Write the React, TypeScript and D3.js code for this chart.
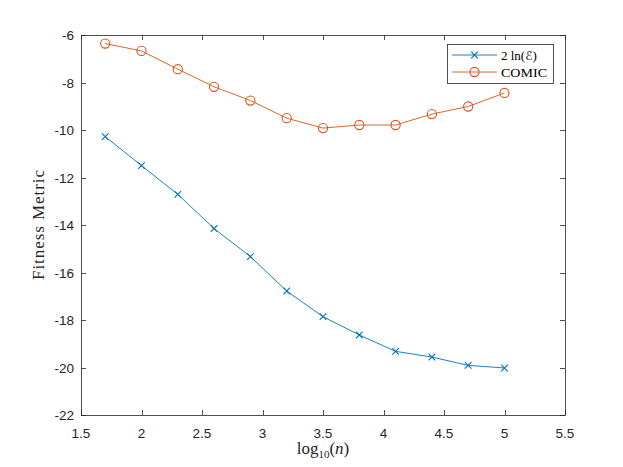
import React, { useRef, useEffect } from "react";
import * as d3 from "d3";

const logN = [1.7, 2.0, 2.3, 2.6, 2.9, 3.2, 3.5, 3.8, 4.1, 4.4, 4.7, 5.0];
const twoLnE = [-10.28, -11.5, -12.71, -14.15, -15.33, -16.78, -17.86, -18.63, -19.32, -19.56, -19.91, -20.02];
const comic = [-6.36, -6.67, -7.44, -8.18, -8.76, -9.5, -9.92, -9.79, -9.79, -9.33, -9.01, -8.44];
const xTicks = [1.5, 2, 2.5, 3, 3.5, 4, 4.5, 5, 5.5];
const yTicks = [-22, -20, -18, -16, -14, -12, -10, -8, -6];

const BLUE = "#0072BD";
const ORANGE = "#D95319";
const AXIS = "#262626";

export default function App() {
  const svgRef = useRef<SVGSVGElement>(null);

  useEffect(() => {
    if (!svgRef.current) return;
    const width = 623;
    const height = 467;
    const left = 81, right = 565, top = 35, bottom = 415;

    const svg = d3.select(svgRef.current).attr("width", width).attr("height", height);
    svg.selectAll("*").remove();

    const x = d3.scaleLinear().domain([1.5, 5.5]).range([left, right]);
    const y = d3.scaleLinear().domain([-22, -6]).range([bottom, top]);

    svg.append("rect").attr("width", width).attr("height", height).attr("fill", "#fff");

    // ticks (inside, on all four sides)
    const tk = svg.append("g").attr("stroke", AXIS).attr("stroke-width", 0.8);
    xTicks.forEach((t) => {
      const px = Math.round(x(t)) + 0.5;
      tk.append("line").attr("x1", px).attr("x2", px).attr("y1", bottom).attr("y2", bottom - 5);
      tk.append("line").attr("x1", px).attr("x2", px).attr("y1", top).attr("y2", top + 5);
    });
    yTicks.forEach((t) => {
      const py = Math.round(y(t)) + 0.5;
      tk.append("line").attr("x1", left).attr("x2", left + 5).attr("y1", py).attr("y2", py);
      tk.append("line").attr("x1", right).attr("x2", right - 5).attr("y1", py).attr("y2", py);
    });

    svg
      .append("rect")
      .attr("x", left + 0.5)
      .attr("y", top + 0.5)
      .attr("width", right - left)
      .attr("height", bottom - top)
      .attr("fill", "none")
      .attr("stroke", AXIS)
      .attr("stroke-width", 0.8);

    // tick labels
    const lab = svg
      .append("g")
      .attr("font-family", "'Liberation Sans', Arial, sans-serif")
      .attr("font-size", 13.5)
      .attr("fill", AXIS);
    xTicks.forEach((t) => {
      lab.append("text").attr("x", x(t)).attr("y", bottom + 23).attr("text-anchor", "middle").text(String(t));
    });
    yTicks.forEach((t) => {
      lab.append("text").attr("x", left - 7).attr("y", y(t) + 5).attr("text-anchor", "end").text(String(t));
    });

    // axis labels
    const xl = svg
      .append("text")
      .attr("x", (left + right) / 2)
      .attr("y", 454)
      .attr("text-anchor", "middle")
      .attr("font-family", "'Liberation Serif', serif")
      .attr("font-size", 17)
      .attr("fill", AXIS);
    xl.append("tspan").text("log");
    xl.append("tspan").attr("font-size", 11).attr("dy", 4).text("10");
    xl.append("tspan").attr("dy", -4).text("(");
    xl.append("tspan").attr("font-style", "italic").text("n");
    xl.append("tspan").text(")");

    svg
      .append("text")
      .attr("transform", `translate(44,${(top + bottom) / 2}) rotate(-90)`)
      .attr("text-anchor", "middle")
      .attr("font-family", "'Liberation Serif', serif")
      .attr("font-size", 17)
      .attr("textLength", 110)
      .attr("lengthAdjust", "spacing")
      .attr("fill", AXIS)
      .text("Fitness Metric");

    const line = d3
      .line<number>()
      .x((_, i) => x(logN[i]))
      .y((d) => y(d));

    const crossPath = (cx: number, cy: number, s: number) =>
      `M${cx - s},${cy - s}L${cx + s},${cy + s}M${cx - s},${cy + s}L${cx + s},${cy - s}`;

    // 2 ln(E) series
    svg.append("path").attr("d", line(twoLnE)).attr("fill", "none").attr("stroke", BLUE).attr("stroke-width", 0.9);
    svg
      .append("g")
      .selectAll("path")
      .data(twoLnE)
      .enter()
      .append("path")
      .attr("d", (d, i) => crossPath(x(logN[i]), y(d), 3.3))
      .attr("stroke", BLUE)
      .attr("stroke-width", 1.1);

    // COMIC series
    svg.append("path").attr("d", line(comic)).attr("fill", "none").attr("stroke", ORANGE).attr("stroke-width", 0.9);
    svg
      .append("g")
      .selectAll("circle")
      .data(comic)
      .enter()
      .append("circle")
      .attr("cx", (_, i) => x(logN[i]))
      .attr("cy", (d) => y(d))
      .attr("r", 4.6)
      .attr("fill", "none")
      .attr("stroke", ORANGE)
      .attr("stroke-width", 1.1);

    // legend
    const lg = svg.append("g");
    lg.append("rect")
      .attr("x", 447.5)
      .attr("y", 44.5)
      .attr("width", 106)
      .attr("height", 39)
      .attr("fill", "#fff")
      .attr("stroke", AXIS)
      .attr("stroke-width", 0.8);
    const rows = [
      { color: BLUE, yy: 55, mark: "x" },
      { color: ORANGE, yy: 72, mark: "o" },
    ];
    rows.forEach((r) => {
      lg.append("line").attr("x1", 452).attr("x2", 497).attr("y1", r.yy).attr("y2", r.yy).attr("stroke", r.color).attr("stroke-width", 0.9);
      if (r.mark === "x") {
        lg.append("path").attr("d", crossPath(474.5, r.yy, 3.3)).attr("stroke", r.color).attr("stroke-width", 1.1);
      } else {
        lg.append("circle").attr("cx", 474.5).attr("cy", r.yy).attr("r", 4.6).attr("fill", "none").attr("stroke", r.color).attr("stroke-width", 1.1);
      }
    });
    const t1 = lg
      .append("text")
      .attr("x", 501)
      .attr("y", 59.5)
      .attr("font-family", "'Liberation Serif', serif")
      .attr("font-size", 13)
      .attr("fill", "#000");
    t1.append("tspan").text("2 ln(");
    t1.append("tspan").attr("font-family", "'DejaVu Sans', sans-serif").attr("font-size", 12).text("ℰ");
    t1.append("tspan").text(")");
    lg.append("text")
      .attr("x", 501)
      .attr("y", 76.5)
      .attr("font-family", "'Liberation Serif', serif")
      .attr("font-size", 13)
      .attr("textLength", 46)
      .attr("lengthAdjust", "spacingAndGlyphs")
      .attr("fill", "#000")
      .text("COMIC");
  }, []);

  return (
    <div style={{ position: "absolute", left: 0, top: 0 }}>
      <svg ref={svgRef}></svg>
    </div>
  );
}
